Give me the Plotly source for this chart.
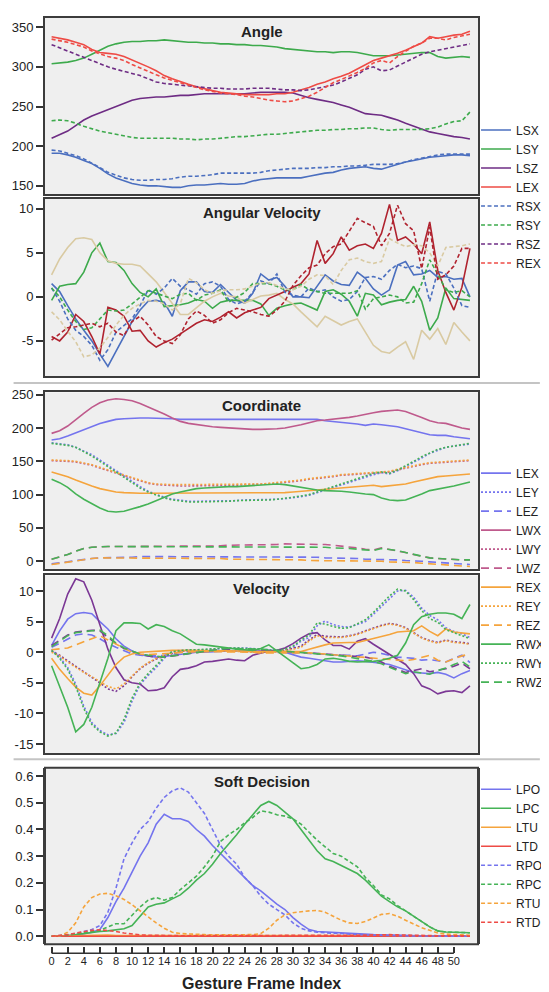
import plotly.graph_objects as go

FRAMES = list(range(53))

# ---------------- Angle ----------------
ANG_LSX = [191, 191, 189, 186, 182, 178, 172, 165, 160, 156, 153, 151, 150, 150, 149, 148, 148, 150, 151, 151, 152, 153, 152, 152, 153, 156, 158, 159, 160, 160, 160, 160, 162, 164, 166, 167, 170, 172, 173, 174, 172, 171, 174, 177, 180, 182, 184, 186, 187, 188, 189, 189, 188]
ANG_LSY = [304, 305, 306, 308, 311, 316, 321, 326, 329, 331, 332, 332, 333, 333, 334, 333, 332, 331, 331, 330, 330, 329, 329, 328, 328, 327, 327, 326, 325, 323, 322, 321, 320, 319, 319, 318, 319, 319, 318, 316, 314, 314, 314, 315, 316, 317, 318, 318, 313, 311, 312, 313, 312]
ANG_LSZ = [210, 214, 219, 226, 233, 238, 242, 246, 251, 255, 258, 260, 261, 262, 262, 263, 264, 264, 265, 266, 266, 266, 266, 266, 266, 267, 268, 268, 268, 268, 267, 264, 261, 259, 257, 255, 252, 249, 245, 241, 240, 239, 236, 233, 229, 225, 221, 218, 216, 214, 212, 211, 209]
ANG_LEX = [338, 336, 334, 331, 328, 322, 318, 317, 316, 313, 309, 305, 300, 295, 289, 285, 281, 278, 275, 272, 270, 268, 267, 266, 265, 265, 265, 265, 266, 266, 268, 271, 274, 278, 281, 285, 288, 292, 297, 302, 308, 311, 314, 317, 321, 326, 330, 338, 336, 338, 340, 341, 345]
ANG_RSX = [195, 194, 191, 188, 184, 179, 173, 167, 163, 160, 158, 157, 157, 158, 158, 159, 161, 162, 162, 163, 164, 166, 166, 166, 166, 166, 167, 169, 170, 171, 172, 172, 172, 173, 173, 174, 174, 175, 175, 176, 177, 177, 177, 178, 180, 183, 185, 187, 189, 190, 190, 190, 190]
ANG_RSY = [232, 233, 232, 229, 225, 222, 219, 217, 215, 213, 211, 210, 210, 210, 210, 210, 209, 209, 208, 209, 209, 210, 211, 212, 212, 213, 214, 215, 215, 216, 217, 218, 219, 220, 220, 221, 221, 222, 222, 223, 223, 221, 220, 221, 221, 221, 221, 222, 224, 228, 231, 232, 243]
ANG_RSZ = [328, 324, 319, 315, 312, 308, 304, 300, 297, 294, 292, 289, 285, 281, 279, 278, 277, 276, 275, 274, 273, 273, 272, 272, 272, 273, 273, 273, 272, 271, 271, 270, 271, 273, 275, 277, 281, 285, 290, 297, 300, 295, 296, 301, 306, 312, 316, 319, 321, 323, 325, 327, 329]
ANG_REX = [335, 333, 331, 328, 325, 320, 316, 313, 311, 308, 303, 299, 294, 290, 286, 283, 280, 277, 274, 271, 269, 267, 266, 265, 263, 262, 260, 258, 257, 256, 257, 260, 263, 268, 274, 280, 284, 288, 293, 298, 305, 308, 305, 313, 320, 326, 330, 336, 336, 334, 337, 339, 341]

# ---------------- Angular Velocity ----------------
AV_LSX = [1.5, 0.6, -1.0, -2.5, -3.8, -5.0, -6.5, -7.9, -6.2, -4.5, -2.8, -1.5, -0.5, -0.4, -0.6, -2.2, 0.7, 1.7, 1.7, 0.6, 0.5, 1.4, 0.5, -0.4, -0.7, 0.4, 2.6, 1.9, 2.2, 1.2, 0.0, 0.0, -0.1, 1.2, 2.5, 1.8, 1.4, 1.3, 2.8, 2.1, 0.9, 0.2, 0.8, 3.6, 4.0, 2.5, 2.6, 3.0, 2.2, 2.3, 2.0, 2.1, 0.0]
AV_LSY = [-0.4, 1.2, 1.4, 1.5, 2.8, 5.0, 6.1, 4.0, 3.9, 3.0, 1.5, 0.5, 0.0, 0.9, -1.1, -1.0, -0.9, -0.7, -0.3, -0.5, -1.3, -0.6, -0.4, -0.4, -0.4, -0.4, -0.8, -2.1, -1.3, -1.0, -0.8, -0.7, -1.1, -1.5, 0.6, 0.8, 0.3, -0.5, -2.2, 0.4, 0.2, -0.9, -0.6, -0.4, -0.3, 1.2, -0.5, -3.8, -2.4, 1.0, -0.2, -0.3, -0.4]
AV_LSZ = [2.5, 4.3, 5.6, 6.6, 6.7, 6.5, 5.0, 4.1, 3.8, 3.7, 3.7, 3.5, 2.6, 1.7, 0.5, -0.8, -2.0, -2.0, -1.3, -0.5, 0.0, 0.4, 0.1, 0.0, -0.7, -0.3, 0.1, 0.2, 0.4, -0.3, -0.8, -1.7, -2.5, -3.4, -2.2, -2.7, -3.2, -2.8, -2.5, -4.0, -5.5, -6.2, -6.4, -5.7, -5.1, -7.1, -3.8, -4.8, -3.6, -5.4, -2.9, -4.0, -5.0]
AV_LEX = [-4.5, -5.0, -4.0, -2.0, -2.8, -4.5, -6.5, -1.2, -1.5, -2.2, -3.9, -3.8, -5.0, -5.7, -5.2, -4.8, -4.2, -3.6, -3.0, -2.6, -2.8, -2.3, -1.7, -2.4, -1.8, -1.5, -1.2, -0.2, 0.2, 0.6, 1.1, 1.5, 2.6, 6.4, 3.8, 4.9, 6.8, 5.3, 5.8, 6.0, 5.5, 7.2, 10.5, 6.4, 6.8, 6.0, 4.9, 8.5, 3.0, 0.5, -1.5, 1.1, 5.5]
AV_RSX = [1.0, -0.5, -2.5, -3.8, -4.5, -5.5, -7.2, -6.0, -4.0, -3.2, -2.5, -1.0, 0.8, 0.3, 1.0, 2.1, 1.2, 0.8, 0.3, 1.5, 1.7, 1.2, -0.3, -0.8, -0.5, 0.5, 1.8, 1.5, 2.6, 0.5, 0.2, 0.0, 1.0, 0.6, 0.8, 0.0, -0.5, -0.3, 0.6, 2.2, 2.3, 2.0, 3.0, 3.7, 3.3, 3.5, 3.2, -0.5, 2.9, 2.6, 1.0, -1.0, -1.2]
AV_RSY = [1.0, 0.0, -1.5, -2.8, -3.7, -3.5, -2.5, -1.5, -1.6, -1.5, -0.8, 0.0, 0.7, 0.4, 0.1, -0.2, 0.3, 0.4, -0.4, 0.2, 0.4, 0.8, -0.6, 0.0, 0.5, 1.5, 1.5, 1.5, 1.2, 0.8, 0.8, 1.4, 0.8, 0.6, 0.4, 0.4, 0.4, 0.4, 0.7, -1.4, -0.2, 0.0, 0.2, 0.0, -0.7, -0.6, 1.5, 4.2, 2.6, 0.8, 0.5, 0.7, 0.0]
AV_RSZ = [-1.7, -2.6, -3.9, -5.1, -6.8, -6.6, -5.8, -4.6, -3.2, -2.1, -1.3, -0.8, -0.4, -0.5, -0.8, -1.5, -0.8, 2.1, 1.6, 0.8, 0.4, 0.7, 0.8, 0.8, 0.9, 1.2, 1.6, 1.6, 1.3, 0.9, 0.8, 1.2, 2.0, 2.5, 2.4, 1.4, 3.0, 4.2, 4.4, 4.0, 3.8, 4.0, 6.6, 6.1, 5.7, 5.9, 5.8, 5.0, 3.5, 5.6, 5.7, 5.8, 6.0]
AV_REX = [-4.9, -4.2, -3.5, -3.4, -3.2, -3.0, -3.4, -3.0, -4.0, -4.4, -2.8, -2.2, -3.2, -4.5, -5.0, -5.3, -4.3, -2.5, -1.6, -2.1, -3.0, -2.6, -1.8, -1.3, -1.5, -1.7, -2.0, -2.2, -1.5, -0.5, 1.3, 2.4, 3.3, 3.6, 4.9, 5.7, 6.0, 7.4, 8.9, 8.4, 8.0, 5.8, 7.2, 10.4, 8.3, 7.5, 3.2, 7.9, 2.0, 2.5, 3.5, 5.5, 5.5]

# ---------------- Coordinate ----------------
CO_LEX = [182, 184, 188, 193, 198, 203, 207, 210, 213, 214, 215, 215, 215, 215, 214, 214, 213, 213, 213, 213, 213, 213, 213, 213, 213, 213, 213, 213, 213, 213, 214, 214, 214, 213, 211, 210, 209, 208, 206, 204, 206, 205, 204, 202, 199, 196, 193, 190, 189, 189, 187, 185, 184]
CO_LEY = [178, 177, 175, 171, 166, 160, 152, 144, 136, 128, 119, 112, 105, 100, 96, 93, 91, 90, 90, 90, 90, 90, 91, 91, 92, 92, 92, 93, 93, 94, 95, 97, 99, 103, 107, 111, 115, 119, 122, 126, 130, 133, 131, 136, 142, 148, 155, 162, 167, 171, 173, 175, 176]
CO_LEZ = [-4, -3, -1, 1, 3, 4, 5, 5, 6, 6, 6, 7, 7, 7, 7, 7, 7, 7, 7, 7, 7, 7, 7, 7, 7, 7, 7, 7, 6, 6, 6, 6, 6, 6, 5, 5, 5, 4, 4, 3, 3, 3, 2, 2, 1, 1, 0, -1, -2, -3, -4, -5, -5]
CO_LWX = [192, 196, 203, 213, 222, 231, 238, 242, 244, 243, 241, 237, 232, 227, 221, 215, 210, 207, 205, 203, 202, 201, 200, 199, 198, 198, 198, 198, 199, 200, 202, 205, 208, 211, 212, 213, 215, 216, 218, 221, 223, 225, 226, 227, 225, 221, 216, 211, 208, 207, 203, 200, 198]
CO_LWY = [151, 151, 150, 149, 147, 144, 140, 136, 132, 128, 124, 120, 117, 115, 114, 114, 113, 113, 113, 114, 114, 114, 114, 114, 115, 115, 115, 116, 117, 118, 120, 121, 123, 124, 126, 127, 129, 130, 131, 132, 133, 133, 134, 137, 140, 143, 145, 147, 148, 149, 150, 151, 151]
CO_LWZ = [3, 6, 10, 15, 19, 21, 22, 22, 22, 22, 22, 22, 22, 22, 23, 23, 23, 23, 23, 23, 23, 23, 24, 24, 24, 24, 25, 25, 25, 26, 26, 26, 26, 25, 25, 24, 23, 22, 20, 18, 17, 20, 18, 16, 13, 10, 7, 5, 4, 3, 3, 2, 2]
CO_REX = [134, 131, 127, 122, 117, 113, 109, 106, 104, 103, 102, 102, 102, 102, 102, 102, 102, 102, 102, 102, 102, 102, 102, 102, 102, 102, 102, 102, 103, 103, 104, 105, 106, 106, 107, 108, 109, 110, 111, 112, 114, 112, 113, 114, 116, 119, 122, 125, 127, 128, 129, 131, 131]
CO_REY = [152, 152, 151, 150, 148, 145, 141, 137, 133, 129, 125, 121, 118, 116, 115, 115, 115, 115, 115, 115, 115, 115, 115, 115, 115, 116, 116, 117, 118, 119, 121, 122, 124, 125, 127, 128, 130, 131, 132, 133, 134, 134, 135, 138, 141, 144, 146, 148, 149, 150, 151, 152, 152]
CO_REZ = [-5, -3, -1, 1, 3, 4, 5, 5, 5, 5, 5, 5, 5, 4, 4, 4, 4, 4, 4, 4, 4, 4, 3, 3, 3, 3, 3, 3, 2, 2, 2, 2, 1, 1, 1, 1, 1, 0, 0, 0, 0, 0, -1, -1, -2, -2, -3, -4, -5, -6, -7, -8, -8]
CO_RWX = [123, 118, 111, 101, 93, 86, 80, 75, 74, 75, 78, 82, 86, 91, 96, 101, 104, 107, 109, 110, 111, 111, 112, 112, 113, 114, 115, 115, 116, 115, 113, 110, 108, 107, 106, 106, 105, 104, 102, 101, 100, 95, 92, 91, 92, 96, 101, 106, 108, 110, 113, 116, 119]
CO_RWY = [177, 176, 174, 171, 165, 158, 150, 142, 134, 126, 118, 110, 104, 99, 95, 92, 90, 89, 89, 89, 89, 90, 90, 91, 91, 92, 92, 92, 93, 94, 96, 98, 100, 104, 108, 112, 116, 120, 123, 127, 132, 134, 132, 137, 143, 150, 157, 163, 168, 171, 173, 175, 177]
CO_RWZ = [3, 6, 10, 15, 19, 21, 22, 22, 22, 22,
          22, 22, 22, 21, 21, 21, 21, 21, 21, 21,
          21, 21, 21, 21, 21, 21, 21, 21, 21, 21,
          21, 21, 21, 21, 21, 20, 20, 19, 18, 17,
          16, 19, 18, 16, 13, 10, 7, 5, 4, 3,
          3, 2, 2]

# ---------------- Velocity ----------------
VE_LEX = [1.1, 3.5, 5.4, 6.3, 6.5, 6.3, 5.0, 3.8, 2.2, 1.0, 0.2, -0.4, -0.6, -0.8, -0.7, -0.5, -0.3, -0.2, 0.0, 0.0, 0.1, 0.2, 0.2, 0.2, 0.2, 0.3, 0.2, 0.2, 0.3, 0.0, -0.4, -0.8, -1.0, -1.2, -1.5, -1.6, -1.6, -1.5, -1.4, -1.5, -1.6, -1.8, -2.0, -2.4, -2.8, -3.3, -3.4, -3.5, -3.3, -3.6, -4.2, -3.5, -3.0]
VE_LEY = [0.5, -0.8, -2.5, -5.2, -8.8, -11.5, -12.8, -13.5, -13.3, -11.5, -8.0, -5.3, -3.8, -2.5, -1.0, 0.2, 0.3, 0.3, 0.4, 0.4, 0.5, 0.6, 0.6, 0.7, 0.7, 0.6, 0.5, 0.4, 0.3, 0.4, 0.8, 1.8, 2.4, 4.3, 5.1, 4.5, 4.2, 4.1, 4.5, 5.0, 6.2, 7.5, 8.8, 10.0, 10.1, 9.0, 7.2, 6.0, 5.3, 4.0, 3.4, 3.0, 2.4]
VE_LEZ = [0.8, 1.5, 2.2, 2.8, 3.0, 2.8, 2.2, 1.4, 0.8, 0.2, -0.3, -0.5, -0.6, -0.6, -0.5, -0.2, 0.0, 0.1, 0.2, 0.2, 0.2, 0.2, 0.2, 0.2, 0.2, 0.1, 0.1, 0.0, 0.0, 0.0, 0.0, -0.1, -0.2, -0.3, -0.4, -0.5, -0.5, -0.5, -0.6, -0.3, 0.0, -0.2, -0.5, -0.8, -0.9, -1.0, -1.3, -1.2, -1.4, -1.6, -1.0, -0.5, -1.7]
VE_LWX = [2.3, 5.5, 9.5, 12.0, 11.5, 8.5, 4.5, 0.5, -2.5, -4.5, -5.0, -5.2, -6.3, -6.2, -5.8, -4.0, -2.8, -2.6, -2.2, -1.6, -1.5, -1.3, -1.1, -1.3, -1.4, -0.5, -0.1, 0.2, 0.3, 0.7, 1.4, 2.3, 3.0, 3.2, 2.0, 1.1, 1.1, 0.5, 1.8, 2.2, 1.3, 0.5, -0.3, -1.1, -2.0, -3.5, -5.5, -6.0, -6.8, -6.4, -6.3, -6.6, -5.5]
VE_LWY = [0.2, -0.5, -1.4, -2.3, -3.2, -4.0, -5.0, -6.0, -6.4, -5.5, -4.0, -2.7, -1.8, -1.1, -0.6, -0.2, 0.1, 0.3, 0.2, 0.2, 0.3, 0.3, 0.2, 0.2, 0.1, 0.1, 0.0, 0.0, 0.1, 0.3, 0.6, 1.0, 2.0, 2.9, 2.6, 2.5, 2.5, 2.7, 3.0, 3.5, 4.0, 4.4, 4.7, 4.5, 4.0, 3.2, 2.4, 1.9, 1.6, 2.0, 1.7, 1.6, 1.4]
VE_LWZ = [1.1, 2.0, 2.8, 3.3, 3.5, 3.6, 3.5, 2.5, 1.4, 0.6, 0.1, -0.3, -0.6, -0.8, -0.8, -0.6, -0.4, -0.2, 0.0, 0.2, 0.3, 0.4, 0.5, 0.5, 0.5, 0.4, 0.4, 0.3, 0.2, 0.1, 0.0, 0.0, -0.1, -0.2, -0.3, -0.3, -0.4, -0.5, -0.6, -0.8, -1.1, -1.6, -2.3, -2.8, -3.3, -3.0, -2.7, -3.2, -3.0, -2.7, -2.3, -1.8, -2.7]
VE_REX = [-1.0, -2.8, -4.3, -5.7, -6.7, -7.0, -5.5, -3.8, -2.0, -0.8, -0.3, 0.0, 0.1, 0.2, 0.3, 0.3, 0.3, 0.3, 0.3, 0.3, 0.2, 0.2, 0.2, 0.2, 0.2, 0.1, 0.1, 0.1, 0.0, 0.0, 0.0, 0.1, 0.5, 0.9, 1.2, 1.5, 1.6, 1.6, 1.6, 1.9, 2.2, 2.5, 2.9, 3.3, 3.4, 3.5, 4.3, 3.4, 2.7, 3.8, 3.3, 3.1, 3.0]
VE_REY = [0.0, -0.6, -1.6, -2.5, -3.3, -4.0, -4.8, -5.6, -6.0, -5.2, -3.9, -2.6, -1.7, -1.0, -0.5, -0.1, 0.2, 0.3, 0.2, 0.2, 0.2, 0.2, 0.2, 0.1, 0.1, 0.0, -0.1, 0.0, 0.1, 0.3, 0.5, 0.8, 1.8, 2.7, 2.4, 2.4, 2.4, 2.6, 2.9, 3.4, 3.9, 4.3, 4.6, 4.4, 3.9, 3.1, 2.3, 1.8, 1.5, 1.9, 1.6, 1.5, 1.3]
VE_REZ = [0.4, 0.5, 0.7, 1.2, 1.7, 2.2, 2.7, 2.0, 1.3, 0.6, 0.0, -0.3, -0.4, -0.3, -0.2, -0.1, 0.0, 0.1, 0.1, 0.1, 0.1, 0.1, 0.1, 0.0, 0.0, 0.0, -0.1, -0.1, -0.1, 0.0, 0.0, 0.0, -0.1, -0.2, -0.3, -0.4, -0.5, -0.6, -0.8, -0.9, -1.0, -1.1, -1.2, -1.3, -1.4, -1.2, -0.8, -0.5, -1.3, -1.6, -1.1, -0.6, -0.3]
VE_RWX = [-2.2, -5.5, -9.0, -13.0, -11.8, -9.0, -5.0, -1.0, 3.5, 4.8, 4.8, 4.7, 3.8, 4.5, 4.2, 3.5, 3.0, 2.2, 1.3, 1.2, 1.0, 0.8, 0.6, 0.5, 0.4, 0.3, 0.6, 1.2, 0.2, -0.8, -1.8, -2.7, -2.5, -2.0, -1.1, -1.0, -1.2, -1.5, -1.6, -1.6, -1.5, -1.3, -1.0, -0.5, 1.5, 4.5, 5.8, 6.2, 6.4, 6.4, 6.2, 5.5, 7.8]
VE_RWY = [0.3, -1.0, -2.8, -5.6, -9.2, -11.8, -13.0, -13.7, -13.2, -11.0, -7.5, -5.0, -3.5, -2.2, -0.8, 0.1, 0.3, 0.4, 0.4, 0.5, 0.6, 0.6, 0.7, 0.7, 0.6, 0.6, 0.5, 0.4, 0.3, 0.5, 1.0, 2.0, 2.8, 4.8, 4.6, 4.2, 3.9, 4.0, 4.7, 5.3, 6.5, 7.8, 9.2, 10.3, 10.0, 8.6, 6.8, 5.5, 4.9, 3.7, 3.2, 2.8, 2.2]
VE_RWZ = [0.9, 1.8, 2.7, 3.2, 3.4, 3.5, 3.6, 2.7, 1.5, 0.7, 0.2, -0.3, -0.5, -0.7, -0.8, -0.6, -0.4, -0.2, 0.0, 0.2, 0.4, 0.5, 0.6, 0.6, 0.6, 0.5, 0.5, 0.4, 0.3, 0.2, 0.1, 0.0, -0.1, -0.2, -0.4, -0.5, -0.6, -0.8, -1.0, -1.3, -1.5, -1.9, -2.5, -3.0, -3.5, -3.2, -3.4, -3.6, -3.0, -2.6, -2.0, -1.5, -2.4]

# ---------------- Soft Decision ----------------
SD_LPO = [0.0, 0.0, 0.001, 0.003, 0.008, 0.015, 0.025, 0.07, 0.13, 0.18, 0.24, 0.30, 0.35, 0.42, 0.457, 0.44, 0.44, 0.43, 0.40, 0.375, 0.34, 0.31, 0.28, 0.25, 0.22, 0.19, 0.17, 0.145, 0.12, 0.10, 0.07, 0.045, 0.025, 0.018, 0.016, 0.014, 0.012, 0.01, 0.008, 0.007, 0.006, 0.005, 0.004, 0.003, 0.003, 0.002, 0.002, 0.001, 0.001, 0.0, 0.0, 0.0, 0.0]
SD_LPC = [0.0, 0.001, 0.003, 0.006, 0.01, 0.015, 0.018, 0.02, 0.023, 0.028, 0.04, 0.075, 0.11, 0.12, 0.125, 0.14, 0.155, 0.18, 0.21, 0.235, 0.27, 0.31, 0.345, 0.38, 0.42, 0.455, 0.49, 0.505, 0.49, 0.465, 0.44, 0.40, 0.36, 0.32, 0.29, 0.28, 0.265, 0.25, 0.235, 0.21, 0.18, 0.15, 0.13, 0.11, 0.095, 0.075, 0.055, 0.035, 0.02, 0.016, 0.015, 0.014, 0.013]
SD_LTU = [0.0, 0.0, 0.001, 0.002, 0.003, 0.004, 0.004, 0.004, 0.003, 0.003,
          0.002, 0.002, 0.002, 0.002, 0.002, 0.002, 0.002, 0.002, 0.002, 0.002,
          0.002, 0.002, 0.002, 0.002, 0.002, 0.002, 0.002, 0.003, 0.003, 0.004,
          0.004, 0.004, 0.004, 0.004, 0.004, 0.003, 0.003, 0.003, 0.003, 0.003,
          0.003, 0.003, 0.003, 0.003, 0.002, 0.002, 0.002, 0.002, 0.001, 0.001,
          0.001, 0.001, 0.001]
SD_LTD = [0.0, 0.0, 0.0, 0.001, 0.001, 0.001, 0.001, 0.001, 0.001, 0.001,
          0.001, 0.001, 0.001, 0.001, 0.001, 0.001, 0.001, 0.001, 0.001, 0.001,
          0.001, 0.001, 0.001, 0.001, 0.001, 0.001, 0.001, 0.001, 0.001, 0.001,
          0.001, 0.001, 0.001, 0.001, 0.001, 0.001, 0.001, 0.001, 0.001, 0.001,
          0.001, 0.001, 0.001, 0.001, 0.001, 0.001, 0.001, 0.001, 0.001, 0.001,
          0.0, 0.0, 0.0]
SD_RPO = [0.0, 0.002, 0.005, 0.01, 0.018, 0.025, 0.04, 0.09, 0.18, 0.29, 0.35, 0.40, 0.43, 0.48, 0.52, 0.545, 0.556, 0.54, 0.50, 0.46, 0.40, 0.34, 0.30, 0.27, 0.22, 0.19, 0.15, 0.12, 0.10, 0.08, 0.05, 0.03, 0.02, 0.015, 0.013, 0.011, 0.01, 0.008, 0.006, 0.005, 0.004, 0.003, 0.003, 0.002, 0.002, 0.001, 0.001, 0.001, 0.0, 0.0, 0.0, 0.0, 0.0]
SD_RPC = [0.0, 0.001, 0.004, 0.008, 0.013, 0.018, 0.022, 0.035, 0.047, 0.047, 0.08, 0.11, 0.135, 0.145, 0.135, 0.145, 0.175, 0.20, 0.225, 0.26, 0.30, 0.355, 0.38, 0.40, 0.425, 0.445, 0.47, 0.465, 0.455, 0.45, 0.44, 0.42, 0.39, 0.36, 0.335, 0.31, 0.30, 0.28, 0.26, 0.22, 0.19, 0.155, 0.14, 0.115, 0.095, 0.075, 0.055, 0.035, 0.02, 0.016, 0.015, 0.014, 0.013]
SD_RTU = [0.0, 0.001, 0.015, 0.05, 0.11, 0.145, 0.158, 0.161, 0.152, 0.138,
          0.118, 0.095, 0.07, 0.05, 0.03, 0.015, 0.01, 0.008, 0.007, 0.006,
          0.005, 0.005, 0.005, 0.005, 0.005, 0.006, 0.01, 0.03, 0.06, 0.08,
          0.088, 0.092, 0.095, 0.097, 0.09, 0.075, 0.06, 0.05, 0.048, 0.055,
          0.068, 0.082, 0.085, 0.075, 0.06, 0.045, 0.032, 0.022, 0.012, 0.008,
          0.006, 0.005, 0.004]
SD_RTD = [0.0, 0.002, 0.006, 0.012, 0.018, 0.022, 0.024, 0.022, 0.018, 0.012,
          0.008, 0.005, 0.004, 0.003, 0.003, 0.002, 0.002, 0.002, 0.002, 0.002,
          0.002, 0.002, 0.002, 0.002, 0.002, 0.002, 0.002, 0.002, 0.002, 0.002,
          0.002, 0.002, 0.002, 0.002, 0.002, 0.003, 0.003, 0.003, 0.004, 0.004,
          0.005, 0.006, 0.006, 0.005, 0.004, 0.003, 0.003, 0.002, 0.002, 0.002,
          0.001, 0.001, 0.001]

X_TICKS = list(range(0, 51, 2))

# ---------------- styling (page pixel positions; page body has an 8px margin) ----------------
OFF = 8
W, H = 549 - OFF, 992 - OFF
L_PX, R_PX = 45 - OFF, 486 - OFF
PANELS_PX = [(12.7, 190), (195, 373), (389.3, 566.7), (573.3, 751.7), (766.7, 944)]
Y_RANGES = [[139.6, 362], [-9.0, 11.1], [-11.5, 253.6], [-16.46, 12.55], [-0.03, 0.631]]
Y_TICKS = [[150, 200, 250, 300, 350], [-5, 0, 5, 10], [0, 50, 100, 150, 200, 250],
           [-15, -10, -5, 0, 5, 10], [0, 0.1, 0.2, 0.3, 0.4, 0.5, 0.6]]
TITLES = ["Angle", "Angular Velocity", "Coordinate", "Velocity", "Soft Decision"]
X_RANGE = [-0.82, 53.0]
FONT = "Liberation Sans, Arial, sans-serif"
BORDER = "#3c3c3c"

C_BLUE, C_GREEN, C_PURPLE, C_RED = "#4b6fbf", "#3daa4c", "#6e2c84", "#ee4b45"
C_TAN, C_DRED = "#d9caa2", "#b0232f"
C_VIOL, C_ROSE, C_ORANGE, C_GREEN2 = "#7474ee", "#bf5a8c", "#f5a43c", "#45b356"
C_PURP2 = "#7b3795"
D_G1 = "4px,2.5px"
D_DOT = "2px,2px"
D_LONG = "8px,5px"

fig = go.Figure()


def add(panel, y, name, color, dash, legend, show):
    ax = "" if panel == 1 else str(panel)
    fig.add_trace(go.Scatter(
        x=FRAMES, y=y, mode="lines", name=name,
        line=dict(color=color, dash=dash, width=1.6),
        xaxis="x" + ax, yaxis="y" + ax, legend=legend, showlegend=show,
        hoverinfo="skip"))


for name, y, c, d in [("LSX", ANG_LSX, C_BLUE, "solid"), ("LSY", ANG_LSY, C_GREEN, "solid"),
                      ("LSZ", ANG_LSZ, C_PURPLE, "solid"), ("LEX", ANG_LEX, C_RED, "solid"),
                      ("RSX", ANG_RSX, C_BLUE, D_G1), ("RSY", ANG_RSY, C_GREEN, D_G1),
                      ("RSZ", ANG_RSZ, C_PURPLE, D_G1), ("REX", ANG_REX, C_RED, D_G1)]:
    add(1, y, name, c, d, "legend", True)
for name, y, c, d in [("LSX", AV_LSX, C_BLUE, "solid"), ("LSY", AV_LSY, C_GREEN, "solid"),
                      ("LSZ", AV_LSZ, C_TAN, "solid"), ("LEX", AV_LEX, C_DRED, "solid"),
                      ("RSX", AV_RSX, C_BLUE, D_G1), ("RSY", AV_RSY, C_GREEN, D_G1),
                      ("RSZ", AV_RSZ, C_TAN, D_G1), ("REX", AV_REX, C_DRED, D_G1)]:
    add(2, y, name, c, d, "legend", False)
G2 = [("LEX", C_VIOL, "solid"), ("LEY", C_VIOL, D_DOT), ("LEZ", C_VIOL, D_LONG),
      ("LWX", C_ROSE, "solid"), ("LWY", C_ROSE, D_DOT), ("LWZ", C_ROSE, D_LONG),
      ("REX", C_ORANGE, "solid"), ("REY", C_ORANGE, D_DOT), ("REZ", C_ORANGE, D_LONG),
      ("RWX", C_GREEN2, "solid"), ("RWY", C_GREEN2, D_DOT), ("RWZ", C_GREEN2, D_LONG)]
CO = [CO_LEX, CO_LEY, CO_LEZ, CO_LWX, CO_LWY, CO_LWZ, CO_REX, CO_REY, CO_REZ, CO_RWX, CO_RWY, CO_RWZ]
VE = [VE_LEX, VE_LEY, VE_LEZ, VE_LWX, VE_LWY, VE_LWZ, VE_REX, VE_REY, VE_REZ, VE_RWX, VE_RWY, VE_RWZ]
for (name, c, d), y in zip(G2, CO):
    add(3, y, name, c, d, "legend2", True)
for (name, c, d), y in zip(G2, VE):
    cc = C_PURP2 if name.startswith("LW") else c
    add(4, y, name, cc, d, "legend2", False)
for name, y, c, d in [("LPO", SD_LPO, C_VIOL, "solid"), ("LPC", SD_LPC, C_GREEN2, "solid"),
                      ("LTU", SD_LTU, C_ORANGE, "solid"), ("LTD", SD_LTD, C_RED, "solid"),
                      ("RPO", SD_RPO, C_VIOL, D_G1), ("RPC", SD_RPC, C_GREEN2, D_G1),
                      ("RTU", SD_RTU, C_ORANGE, D_G1), ("RTD", SD_RTD, C_RED, D_G1)]:
    add(5, y, name, c, d, "legend3", True)

pw = R_PX - L_PX


def py(p):
    """page y pixel -> paper fraction"""
    return 1 - (p - OFF) / H


def px(p):
    """page x pixel -> paper fraction"""
    return (p - OFF - L_PX) / pw


layout = dict(
    width=W, height=H, margin=dict(l=L_PX, r=W - R_PX, t=0, b=0),
    paper_bgcolor="white", plot_bgcolor="#efefef",
    font=dict(family=FONT, size=12, color="#222"),
    annotations=[], shapes=[],
)
for i in range(5):
    ax = "" if i == 0 else str(i + 1)
    top, bot = PANELS_PX[i]
    xa = dict(domain=[0, 1], range=X_RANGE, showgrid=False, zeroline=False)
    if i < 4:
        xa.update(anchor="y" + ax, showticklabels=False, ticks="", showline=True,
                  mirror=True, linecolor=BORDER, linewidth=2)
    else:
        xa.update(anchor="free", position=py(953), tickvals=X_TICKS, ticks="inside",
                  ticklen=6, tickwidth=1.5, tickcolor="#333", showline=False,
                  tickfont=dict(size=11, color="#222"))
    layout["xaxis" + ax] = xa
    yt = Y_TICKS[i]
    layout["yaxis" + ax] = dict(
        domain=[py(bot), py(top)], range=Y_RANGES[i], anchor="x" + ax,
        tickvals=yt, ticktext=[f"{v:.1f}" for v in yt] if i == 4 else [str(v) for v in yt],
        ticks="outside", ticklen=7, tickwidth=1.5, tickcolor="#333",
        tickfont=dict(size=13, color="#222"),
        showgrid=False, zeroline=False, showline=True, mirror=True,
        linecolor=BORDER, linewidth=2)
    layout["annotations"].append(dict(
        text="<b>%s</b>" % TITLES[i], xref="paper", yref="paper", x=0.5, y=py(top + 13.5),
        xanchor="center", yanchor="middle", showarrow=False,
        font=dict(size=15, color="#222", family=FONT)))

# frame of the bottom panel (its x axis is detached below it)
layout["shapes"].append(dict(type="rect", xref="x5 domain", yref="y5 domain",
                             x0=0, x1=1, y0=0, y1=1, layer="above",
                             line=dict(color=BORDER, width=2)))
# detached baseline of the frame-index axis
layout["shapes"].append(dict(type="line", xref="x5", yref="paper",
                             x0=X_TICKS[0], x1=X_TICKS[-1], y0=py(953), y1=py(953),
                             line=dict(color="#333", width=1.5)))
layout["annotations"].append(dict(
    text="<b>Gesture Frame Index</b>", xref="paper", yref="paper", x=0.5, y=py(983),
    xanchor="center", yanchor="middle", showarrow=False,
    font=dict(size=16, color="#222", family=FONT)))

for ypx in (380, 758):
    layout["shapes"].append(dict(
        type="line", xref="paper", yref="paper", x0=px(13), x1=px(549),
        y0=py(ypx), y1=py(ypx), line=dict(color="#c4c4c4", width=2)))

leg_common = dict(xanchor="left", yanchor="middle", bgcolor="rgba(0,0,0,0)",
                  font=dict(size=12, color="#222", family=FONT), tracegroupgap=0,
                  borderwidth=0, x=px(484))
layout["legend"] = dict(leg_common, y=py(192.5))
layout["legend2"] = dict(leg_common, y=py(575.5))
layout["legend3"] = dict(leg_common, y=py(855))

fig.update_layout(**layout)
fig.write_html("out.html")
